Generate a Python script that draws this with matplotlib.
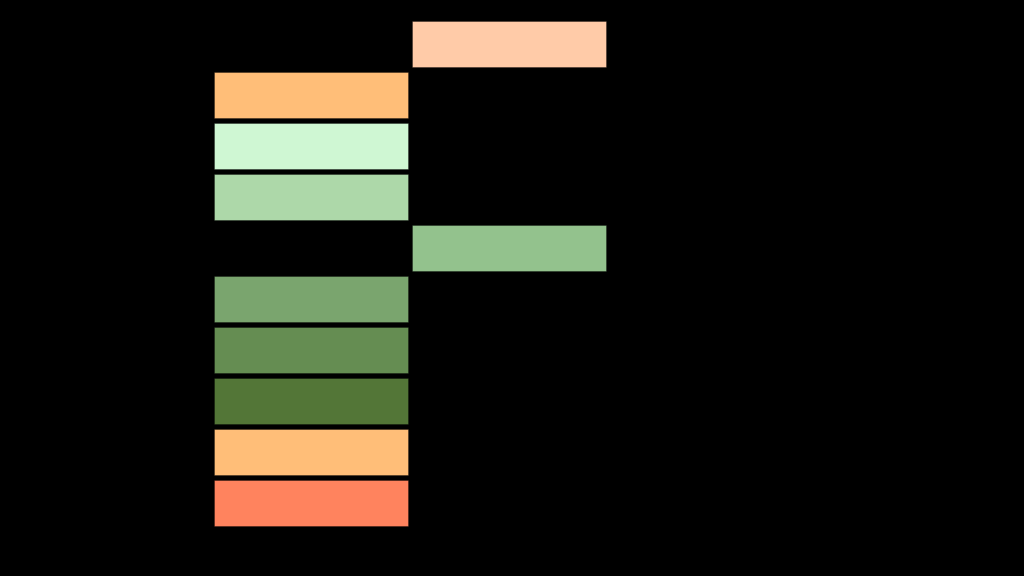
import matplotlib
matplotlib.use("Agg")
from matplotlib import pyplot as plt

# one row per task, top to bottom
tasks = ["t0", "t1", "t2", "t3", "t4", "t5", "t6", "t7", "t8", "t9"]
starts = [1, 0, 0, 0, 1, 0, 0, 0, 0, 0]
durations = [1, 1, 1, 1, 1, 1, 1, 1, 1, 1]
colors = ["#FFCBA8", "#FFBE78", "#CFF7D3", "#ADD8A9", "#93C28D",
          "#7AA56E", "#658D52", "#537637", "#FFBE78", "#FF835E"]

fig = plt.figure(figsize=(10.24, 5.76), dpi=100)
fig.patch.set_facecolor("black")
ax = fig.add_axes([0, 0, 1, 1])
ax.set_facecolor("black")

ypos = list(range(len(tasks)))
ax.barh(ypos, [d * 0.98 for d in durations], left=starts, height=0.9,
        color=colors, edgecolor="#00000055", linewidth=0.6)

ax.set_xlim(-1.081, 4.091)
ax.set_ylim(10.43, -0.863)
ax.set_yticks(ypos)
ax.set_yticklabels(tasks, color="black")
ax.tick_params(colors="black")
for s in ax.spines.values():
    s.set_visible(False)
ax.set_xticks([])
ax.set_yticks([])

fig.savefig("out.png", dpi=100, facecolor="black")
